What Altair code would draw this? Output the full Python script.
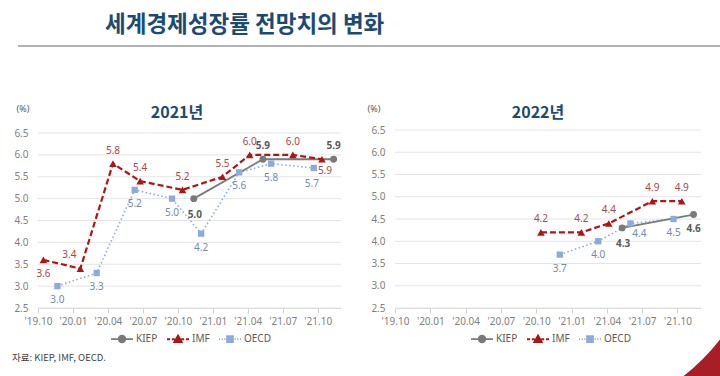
import json
import altair as alt
import pandas as pd

# ---------------- data ----------------
SERIES = ["KIEP", "IMF", "OECD"]

KIEP_DATES = ["2020-11-12", "2021-05-10", "2021-11-12"]
IMF_DATES = ["2019-10-15", "2020-01-20", "2020-04-14", "2020-06-24", "2020-10-13",
             "2021-01-26", "2021-04-06", "2021-07-27", "2021-10-12"]
OECD_DATES = ["2019-11-21", "2020-03-02", "2020-06-10", "2020-09-16", "2020-12-01",
              "2021-03-09", "2021-05-31", "2021-09-21"]

KIEP_2021 = [5.0, 5.9, 5.9]
IMF_2021 = [3.6, 3.4, 5.8, 5.4, 5.2, 5.5, 6.0, 6.0, 5.9]
OECD_2021 = [3.0, 3.3, 5.2, 5.0, 4.2, 5.6, 5.8, 5.7]

KIEP_2022 = [None, 4.3, 4.6]
IMF_2022 = [None, None, None, None, 4.2, 4.2, 4.4, 4.9, 4.9]
OECD_2022 = [None, None, None, None, 3.7, 4.0, 4.4, 4.5]

TICK_LABELS = ["'19.10", "'20.01", "'20.04", "'20.07", "'20.10",
               "'21.01", "'21.04", "'21.07", "'21.10"]
Y_TICKS = [2.5, 3.0, 3.5, 4.0, 4.5, 5.0, 5.5, 6.0, 6.5]

TITLE = "세계경제성장률 전망치의 변화"
PANEL_TITLES = ["2021년", "2022년"]
SOURCE = "자료: KIEP, IMF, OECD."

# ---------------- styles ----------------
LABEL_POS_2021 = {
    "KIEP": ["below_far", "above", "above"],
    "IMF": ["below", "above_left", "above", "above", "above", "above", "above", "above", "below_r"],
    "OECD": ["below"] * 7 + ["below_l"],
}
LABEL_POS_2022 = {
    "KIEP": [None, "below_far", "below"],
    "IMF": [None] * 4 + ["above"] * 5,
    "OECD": [None] * 4 + ["below", "below", "below_right", "below"],
}
OFFSETS = {"above": (0, -13), "below": (0, 14), "below_far": (1, 16),
           "above_left": (-11, -14), "below_right": (9, 11),
           "below_r": (3, 12), "below_l": (-2, 16)}

STYLE = {
    "KIEP": dict(color="#7a7a7a", dash=None, width=1.8, shape="circle", size=48,
                 label="#595959", weight="bold"),
    "IMF": dict(color="#b01515", dash=[6, 3], width=2.2, shape="triangle-up", size=58,
                label="#a84848", weight="normal"),
    "OECD": dict(color="#8eaadb", dash=[1.5, 2.5], width=1.6, shape="square", size=40,
                 label="#7189b3", weight="normal"),
}
LEGEND_PATHS = [
    "M-1,0H1M0.3,0A0.3,0.3 0 1,1 -0.3,0A0.3,0.3 0 1,1 0.3,0Z",
    "M-1,0H-0.72M-0.56,0H-0.3M0,-0.34L0.34,0.26L-0.34,0.26ZM0.3,0H0.56M0.72,0H1",
    "M-1,0H-0.9M-0.76,0H-0.66M-0.52,0H-0.42M-0.27,-0.27H0.27V0.27H-0.27ZM0.42,0H0.52M0.66,0H0.76M0.9,0H1",
]
FONT = "Noto Sans"
KFONT = "Noto Sans CJK KR"
NAVY = "#1b4a72"


def months(s):
    y, m, d = map(int, s.split("-"))
    return (y - 2019) * 12 + (m - 10) + (d - 1) / 30.0


DATES = {"KIEP": KIEP_DATES, "IMF": IMF_DATES, "OECD": OECD_DATES}


def build_panel(values, label_pos, xrange, yrange, axis_x, legend_x):
    label_expr = json.dumps(TICK_LABELS) + "[round(datum.value / 3)]"
    x_axis = alt.Axis(orient="bottom", offset=yrange[0] - 376, values=list(range(0, 25, 3)),
                      labelExpr=label_expr, grid=False, domain=True, domainColor="#d9d9d9",
                      ticks=True, tickColor="#d0d0d0", tickSize=5, labelColor="#7f7f7f",
                      labelFontSize=10, labelPadding=3, labelFont=FONT,
                      labelOverlap=False, labelFlush=False)
    y_axis = alt.Axis(orient="left", offset=-axis_x, values=Y_TICKS, format=".1f",
                      grid=False, domain=False, ticks=False, labelColor="#7f7f7f",
                      labelFontSize=10, labelPadding=10, labelFont=FONT)
    xs = alt.Scale(domain=[0, 26], range=xrange, nice=False, zero=False)
    ys = alt.Scale(domain=[2.5, 6.5], range=yrange, nice=False, zero=False)

    def X(f):
        return alt.X(f"{f}:Q", scale=xs, axis=x_axis, title=None)

    def Y(f):
        return alt.Y(f"{f}:Q", scale=ys, axis=y_axis, title=None)

    grid_df = pd.DataFrame({"g": Y_TICKS, "x0": 0.0, "x1": 26.0})
    layers = [alt.Chart(grid_df).mark_rule(color="#e4e4e4", strokeWidth=1).encode(
        x=X("x0"), x2="x1:Q", y=Y("g"))]

    frames = {}
    for s in SERIES:
        df = pd.DataFrame({"m": [months(d) for d in DATES[s]], "v": values[s],
                           "pos": label_pos[s]}).dropna(subset=["v"])
        frames[s] = df

    order = ["OECD", "KIEP", "IMF"]
    for s in order:
        st = STYLE[s]
        kw = dict(color=st["color"], strokeWidth=st["width"])
        if st["dash"]:
            kw["strokeDash"] = st["dash"]
        layers.append(alt.Chart(frames[s]).mark_line(**kw).encode(x=X("m"), y=Y("v")))
    for s in order:
        st = STYLE[s]
        layers.append(alt.Chart(frames[s]).mark_point(
            shape=st["shape"], filled=True, size=st["size"], color=st["color"], opacity=1
        ).encode(x=X("m"), y=Y("v")))
    for s in order:
        st = STYLE[s]
        df = frames[s]
        for p in df["pos"].unique():
            dx, dy = OFFSETS[p]
            layers.append(alt.Chart(df[df["pos"] == p]).mark_text(
                dx=dx, dy=dy, fontSize=10, color=st["label"], fontWeight=st["weight"],
                font=FONT, baseline="middle", align="center"
            ).encode(x=X("m"), y=Y("v"), text=alt.Text("v:Q", format=".1f")))

    leg = alt.Legend(title=None, orient="none", legendX=legend_x, legendY=327,
                     direction="horizontal", symbolSize=484, symbolStrokeWidth=1.8,
                     labelFontSize=10, labelColor="#595959", labelFont=FONT,
                     labelOffset=2, columnPadding=5)
    col_scale = alt.Scale(domain=SERIES, range=[STYLE[s]["color"] for s in SERIES])
    shp_scale = alt.Scale(domain=SERIES, range=LEGEND_PATHS)
    leg_df = pd.DataFrame({"series": SERIES, "m": 0.0, "v": 100.0})
    layers.append(alt.Chart(leg_df).mark_point(filled=True, clip=True, opacity=1).encode(
        x=X("m"), y=Y("v"),
        fill=alt.Fill("series:N", scale=col_scale, legend=leg),
        stroke=alt.Stroke("series:N", scale=col_scale, legend=leg),
        shape=alt.Shape("series:N", scale=shp_scale, legend=leg),
    ))
    return alt.layer(*layers)


left = build_panel({"KIEP": KIEP_2021, "IMF": IMF_2021, "OECD": OECD_2021},
                   LABEL_POS_2021, [38, 341], [308, 133], 38, 110)
right = build_panel({"KIEP": KIEP_2022, "IMF": IMF_2022, "OECD": OECD_2022},
                    LABEL_POS_2022, [395, 701], [308, 130], 395, 470)

one = pd.DataFrame({"k": [0]})
deco = [
    alt.Chart(one).mark_text(text=TITLE, align="left", baseline="middle", fontSize=22.5,
                             fontWeight="bold", color=NAVY, font=KFONT).encode(
        x=alt.value(105), y=alt.value(25)),
    alt.Chart(one).mark_rule(color="#b3b3b3", strokeWidth=2).encode(
        x=alt.value(18), x2=alt.value(720), y=alt.value(46)),
    alt.Chart(one).mark_text(text=PANEL_TITLES[0], align="center", baseline="middle",
                             fontSize=16, fontWeight="bold", color=NAVY, font=KFONT).encode(
        x=alt.value(177), y=alt.value(113)),
    alt.Chart(one).mark_text(text=PANEL_TITLES[1], align="center", baseline="middle",
                             fontSize=16, fontWeight="bold", color=NAVY, font=KFONT).encode(
        x=alt.value(538), y=alt.value(113)),
    alt.Chart(one).mark_text(text="(%)", align="center", baseline="middle", fontSize=9,
                             color="#595959", font=FONT).encode(
        x=alt.value(23), y=alt.value(109)),
    alt.Chart(one).mark_text(text="(%)", align="center", baseline="middle", fontSize=9,
                             color="#595959", font=FONT).encode(
        x=alt.value(374), y=alt.value(109)),
    alt.Chart(one).mark_text(text=SOURCE, align="left", baseline="middle", fontSize=9.5,
                             color="#404040", font=KFONT).encode(
        x=alt.value(12), y=alt.value(358)),
    alt.Chart(one).mark_point(shape="M-1,1Q0.1,0.15 1,-1L1,1Z", filled=True, size=1369,
                              color="#a81e26", opacity=1).encode(
        x=alt.value(701.5), y=alt.value(358)),
]

chart = alt.layer(*deco, left, right).resolve_scale(
    x="independent", y="independent", fill="independent", stroke="independent",
    shape="independent"
).resolve_axis(x="independent", y="independent").resolve_legend(
    fill="independent", stroke="independent", shape="independent"
).properties(
    width=720, height=376, autosize=alt.AutoSizeParams(type="none"), padding=0,
    background="white"
).configure_view(stroke=None)

chart.save("out.html", embed_options={"renderer": "svg", "actions": False})
